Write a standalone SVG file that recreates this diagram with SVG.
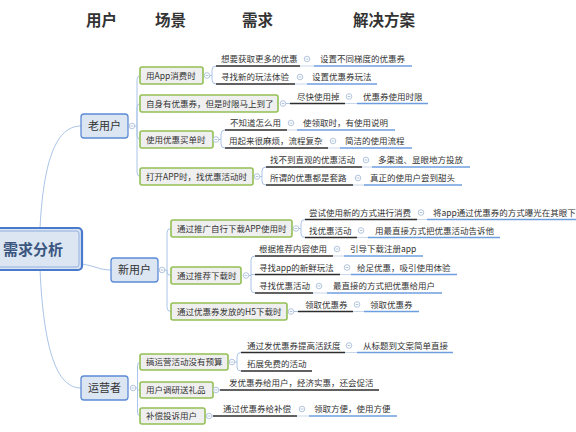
<svg xmlns="http://www.w3.org/2000/svg" xmlns:xlink="http://www.w3.org/1999/xlink" width="576" height="432" viewBox="0 0 576 432">
<style>
text{font-family:"Noto Sans CJK SC","Liberation Sans",sans-serif;fill:#333}
.h{font-size:15.5px;font-weight:bold}
.root{font-size:15px;font-weight:bold;fill:#3b5680}
.l1{font-size:11px;text-anchor:middle}
.l2,.t3{font-size:8.5px}
.b1{fill:#dce6f2;stroke:#5b8bd6;stroke-width:1.3}
.b2{fill:#efefef;stroke:#93c054;stroke-width:1.6}
.c{fill:none;stroke:#a9c4e8;stroke-width:1}
.k{stroke:#2d2d2d;stroke-width:1.5}
.u{stroke:#6e9ee0;stroke-width:1.5}
.g{stroke:#c9d7ea;stroke-width:1}
</style>
<defs>
<g id="m"><circle r="2.8" fill="#fff" stroke="#9fb6d6" stroke-width="0.8"/><path d="M-1.4,0H1.4" stroke="#9fb6d6" stroke-width="0.8"/></g>
</defs>
<rect width="576" height="432" fill="#fff"/>
<g id="headers">
<text class="h" x="86" y="26">用户</text>
<text class="h" x="155" y="26">场景</text>
<text class="h" x="242" y="26">需求</text>
<text class="h" x="353" y="26">解决方案</text>
</g>
<g id="connectors">
<path class="c" d="M40,228 C44,150 60,126 81,126"/>
<path class="c" d="M82,264 C95,266 100,270 111,270"/>
<path class="c" d="M40,269 C44,360 60,388 81,388"/>
<path class="c" d="M135,126 H137 V79.5 Q137,75.5 141,75.5 M137,126 V107.5 Q137,103.5 141,103.5 M137,126 V135.5 Q137,139.5 141,139.5 M137,126 V172.5 Q137,176.5 141,176.5"/>
<path class="c" d="M165,270 H167 V232.5 Q167,228.5 171,228.5 M167,270 V271.5 Q167,275.5 171,275.5 M167,270 V307.5 Q167,311.5 171,311.5"/>
<path class="c" d="M136,388 H137.5 V366 Q137.5,362 141,362 M137.5,388 V390 H141 M137.5,388 V412 Q137.5,416 141,416"/>
<path class="c" d="M210,75.5 H212 V70 Q212,66 216,66 M212,75.5 V80 Q212,84 216,84"/>
<path class="c" d="M286,103.5 H290"/>
<path class="c" d="M219,139.5 H221 V134 Q221,130 225,130 M221,139.5 V144 Q221,148 225,148"/>
<path class="c" d="M260,176.5 H262 V171 Q262,167 266,167 M262,176.5 V181 Q262,185 266,185"/>
<path class="c" d="M299,228.5 H301 V223.5 Q301,219.5 305,219.5 M301,228.5 V233.5 Q301,237.5 305,237.5"/>
<path class="c" d="M249,275.5 H251 V260 Q251,256 255,256 M251,275.5 V274.5 H255 M251,275.5 V289 Q251,293 255,293"/>
<path class="c" d="M294,311.5 H298"/>
<path class="c" d="M235,362 H237 V356.5 Q237,352.5 241,352.5 M237,362 V367 Q237,371 241,371"/>
<path class="c" d="M219,390 H220"/>
<path class="c" d="M212,416 H213"/>
</g>
<g id="root">
<rect x="-8" y="228" width="90" height="42" rx="4" fill="#dce6f2" stroke="#4a7acb" stroke-width="2.2"/>
<rect x="-5" y="231" width="84" height="36" rx="2.5" fill="none" stroke="#86a8dc" stroke-width="0.9"/>
<text class="root" x="3" y="255">需求分析</text>
</g>
<g id="old-users">
<rect class="b1" x="81" y="114" width="47" height="24" rx="3"/>
<text class="l1" x="104.5" y="130">老用户</text>
<use href="#m" x="132" y="126"/>
</g>
<g id="new-users">
<rect class="b1" x="111" y="258" width="47" height="24" rx="3"/>
<text class="l1" x="134.5" y="274">新用户</text>
<use href="#m" x="162" y="270"/>
</g>
<g id="operators">
<rect class="b1" x="81" y="376" width="47" height="24" rx="3"/>
<text class="l1" x="104.5" y="392">运营者</text>
<use href="#m" x="133" y="388"/>
</g>
<g id="a1">
<rect class="b2" x="140" y="67" width="63" height="17" rx="2"/>
<text class="l2" x="146" y="78.5">用App消费时</text>
<use href="#m" x="207" y="75.5"/>
<line class="k" x1="216" y1="66" x2="300" y2="66"/><text class="t3" x="221" y="62">想要获取更多的优惠</text>
<use href="#m" x="307" y="59"/><line class="g" x1="300" y1="66" x2="314" y2="66"/>
<line class="u" x1="314" y1="66" x2="412" y2="66"/><text class="t3" x="320" y="62">设置不同梯度的优惠券</text>
<line class="k" x1="216" y1="84" x2="295" y2="84"/><text class="t3" x="221" y="80">寻找新的玩法体验</text>
<use href="#m" x="300" y="77"/><line class="g" x1="295" y1="84" x2="307" y2="84"/>
<line class="u" x1="307" y1="84" x2="377" y2="84"/><text class="t3" x="312" y="80">设置优惠券玩法</text>
</g>
<g id="a2">
<rect class="b2" x="140" y="95" width="138" height="17" rx="2"/>
<text class="l2" x="146" y="106.5">自身有优惠券，但是时限马上到了</text>
<use href="#m" x="283" y="103.5"/>
<line class="k" x1="290" y1="103.5" x2="345" y2="103.5"/><text class="t3" x="297" y="99.5">尽快使用掉</text>
<use href="#m" x="349" y="96.5"/><line class="g" x1="345" y1="103.5" x2="357" y2="103.5"/>
<line class="u" x1="357" y1="103.5" x2="428" y2="103.5"/><text class="t3" x="363" y="99.5">优惠券使用时限</text>
</g>
<g id="a3">
<rect class="b2" x="140" y="131" width="73" height="17" rx="2"/>
<text class="l2" x="146" y="142.5">使用优惠买单时</text>
<use href="#m" x="216" y="139.5"/>
<line class="k" x1="225" y1="130" x2="287" y2="130"/><text class="t3" x="230" y="126">不知道怎么用</text>
<use href="#m" x="291" y="123"/><line class="g" x1="287" y1="130" x2="297" y2="130"/>
<line class="u" x1="297" y1="130" x2="395" y2="130"/><text class="t3" x="303" y="126">使领取时，有使用说明</text>
<line class="k" x1="225" y1="148" x2="328" y2="148"/><text class="t3" x="229" y="144">用起来很麻烦，流程复杂</text>
<use href="#m" x="333" y="141"/><line class="g" x1="328" y1="148" x2="340" y2="148"/>
<line class="u" x1="340" y1="148" x2="412" y2="148"/><text class="t3" x="345" y="144">简洁的使用流程</text>
</g>
<g id="a4">
<rect class="b2" x="140" y="168" width="113" height="17" rx="2"/>
<text class="l2" x="146" y="179.5">打开APP时，找优惠活动时</text>
<use href="#m" x="257" y="176.5"/>
<line class="k" x1="266" y1="167" x2="362" y2="167"/><text class="t3" x="270" y="163">找不到直观的优惠活动</text>
<use href="#m" x="366" y="160"/><line class="g" x1="362" y1="167" x2="372" y2="167"/>
<line class="u" x1="372" y1="167" x2="470" y2="167"/><text class="t3" x="378" y="163">多渠道、显眼地方投放</text>
<line class="k" x1="266" y1="185" x2="353" y2="185"/><text class="t3" x="270" y="181">所谓的优惠都是套路</text>
<use href="#m" x="358" y="178"/><line class="g" x1="353" y1="185" x2="364" y2="185"/>
<line class="u" x1="364" y1="185" x2="462" y2="185"/><text class="t3" x="370" y="181">真正的使用户尝到甜头</text>
</g>
<g id="b1">
<rect class="b2" x="171" y="220" width="121" height="17" rx="2"/>
<text class="l2" x="177" y="231.5">通过推广自行下载APP使用时</text>
<use href="#m" x="296" y="228.5"/>
<line class="k" x1="305" y1="219.5" x2="417" y2="219.5"/><text class="t3" x="309" y="215.5">尝试使用新的方式进行消费</text>
<use href="#m" x="421" y="212.5"/><line class="g" x1="417" y1="219.5" x2="427" y2="219.5"/>
<line class="u" x1="427" y1="219.5" x2="580" y2="219.5"/><text class="t3" x="433" y="215.5">将app通过优惠券的方式曝光在其眼下</text>
<line class="k" x1="305" y1="237.5" x2="357" y2="237.5"/><text class="t3" x="309" y="233.5">找优惠活动</text>
<use href="#m" x="361" y="230.5"/><line class="g" x1="357" y1="237.5" x2="368" y2="237.5"/>
<line class="u" x1="368" y1="237.5" x2="500" y2="237.5"/><text class="t3" x="375" y="233.5">用最直接方式把优惠活动告诉他</text>
</g>
<g id="b2">
<rect class="b2" x="171" y="267" width="70" height="17" rx="2"/>
<text class="l2" x="177" y="278.5">通过推荐下载时</text>
<use href="#m" x="246" y="275.5"/>
<line class="k" x1="255" y1="256" x2="333" y2="256"/><text class="t3" x="259" y="252">根据推荐内容使用</text>
<use href="#m" x="337" y="249"/><line class="g" x1="333" y1="256" x2="344" y2="256"/>
<line class="u" x1="344" y1="256" x2="423" y2="256"/><text class="t3" x="350" y="252">引导下载注册app</text>
<line class="k" x1="255" y1="274.5" x2="340" y2="274.5"/><text class="t3" x="259" y="270.5">寻找app的新鲜玩法</text>
<use href="#m" x="347" y="267.5"/><line class="g" x1="340" y1="274.5" x2="351" y2="274.5"/>
<line class="u" x1="351" y1="274.5" x2="457" y2="274.5"/><text class="t3" x="357" y="270.5">给足优惠，吸引使用体验</text>
<line class="k" x1="255" y1="293" x2="313" y2="293"/><text class="t3" x="259" y="289">寻找优惠活动</text>
<use href="#m" x="319" y="286"/><line class="g" x1="313" y1="293" x2="327" y2="293"/>
<line class="u" x1="327" y1="293" x2="442" y2="293"/><text class="t3" x="333" y="289">最直接的方式把优惠给用户</text>
</g>
<g id="b3">
<rect class="b2" x="171" y="303" width="116" height="17" rx="2"/>
<text class="l2" x="177" y="314.5">通过优惠券发放的H5下载时</text>
<use href="#m" x="291" y="311.5"/>
<line class="k" x1="298" y1="311.5" x2="353" y2="311.5"/><text class="t3" x="305" y="307.5">领取优惠券</text>
<use href="#m" x="357" y="304.5"/><line class="g" x1="353" y1="311.5" x2="364" y2="311.5"/>
<line class="u" x1="364" y1="311.5" x2="419" y2="311.5"/><text class="t3" x="370" y="307.5">领取优惠券</text>
</g>
<g id="c1">
<rect class="b2" x="140" y="354" width="88" height="16" rx="2"/>
<text class="l2" x="146" y="365">搞运营活动没有预算</text>
<use href="#m" x="232" y="362"/>
<line class="k" x1="241" y1="352.5" x2="345" y2="352.5"/><text class="t3" x="247" y="348.5">通过发优惠券提高活跃度</text>
<use href="#m" x="349" y="345.5"/><line class="g" x1="345" y1="352.5" x2="357" y2="352.5"/>
<line class="u" x1="357" y1="352.5" x2="453" y2="352.5"/><text class="t3" x="363" y="348.5">从标题到文案简单直接</text>
<line class="k" x1="241" y1="371" x2="312" y2="371"/><text class="t3" x="247" y="367">拓展免费的活动</text>
</g>
<g id="c2">
<rect class="b2" x="140" y="382" width="73" height="16" rx="2"/>
<text class="l2" x="146" y="393">用户调研送礼品</text>
<use href="#m" x="216" y="390"/>
<line class="k" x1="220" y1="390" x2="379" y2="390"/><text class="t3" x="229" y="386">发优惠券给用户，经济实惠，还会促活</text>
</g>
<g id="c3">
<rect class="b2" x="140" y="408" width="65" height="16" rx="2"/>
<text class="l2" x="146" y="419">补偿投诉用户</text>
<use href="#m" x="209" y="416"/>
<line class="k" x1="213" y1="416" x2="297" y2="416"/><text class="t3" x="223" y="412">通过优惠券给补偿</text>
<use href="#m" x="302" y="409"/><line class="g" x1="297" y1="416" x2="309" y2="416"/>
<line class="u" x1="309" y1="416" x2="397" y2="416"/><text class="t3" x="314" y="412">领取方便，使用方便</text>
</g>
</svg>
